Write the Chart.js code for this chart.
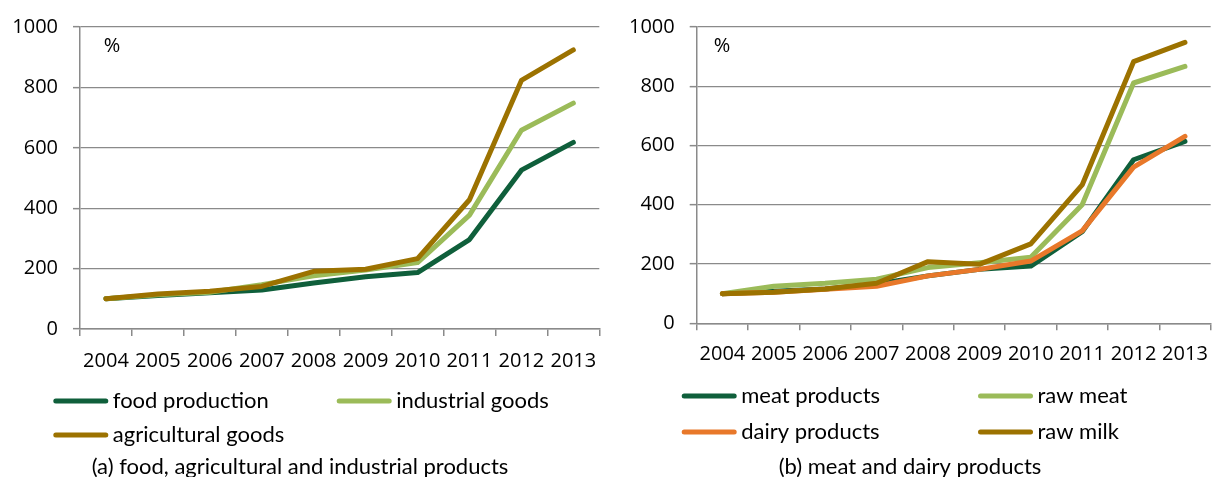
<!DOCTYPE html>
<html>
<head>
<meta charset="utf-8">
<script src="https://cdn.jsdelivr.net/npm/chart.js@4.4.0/dist/chart.umd.min.js"></script>
<style>
  html, body { margin: 0; padding: 0; background: #fff; overflow: hidden; width: 1214px; height: 477px; }
  canvas { position: absolute; top: 0; }
  #cA { left: 0; }
  #cB { left: 610px; }
</style>
</head>
<body>
<canvas id="cA" width="610" height="477"></canvas>
<canvas id="cB" width="610" height="477"></canvas>
<script>
// ---- data ----
const years = ['2004', '2005', '2006', '2007', '2008', '2009', '2010', '2011', '2012', '2013'];
const yTicks = [0, 200, 400, 600, 800, 1000];

const foodProduction    = [100, 111, 120, 129, 152, 173, 187, 296, 526, 618];
const industrialGoods   = [100, 113, 122, 147, 176, 195, 220, 377, 658, 748];
const agriculturalGoods = [100, 116, 125, 141, 191, 198, 233, 428, 823, 924];

const meatProducts  = [100, 108, 116, 133, 160, 182, 193, 309, 552, 614];
const rawMeat       = [100, 125, 135, 149, 188, 204, 223, 400, 811, 867];
const dairyProducts = [100, 105, 115, 125, 160, 182, 210, 312, 527, 631];
const rawMilk       = [100, 105, 116, 135, 208, 199, 268, 467, 883, 948];

const labelsA = ['food production', 'industrial goods', 'agricultural goods'];
const labelsB = ['meat products', 'raw meat', 'dairy products', 'raw milk'];
const captionA = '(a) food, agricultural and industrial products';
const captionB = '(b) meat and dairy products';
const unitLabel = '%';

// ---- styles ----
const DARK_GREEN = '#0F5F3B';
const LIGHT_GREEN = '#9BBB59';
const BROWN = '#9C7200';
const ORANGE = '#E8782A';
const GRID = '#8a8a8a';
const TICK_FONT = '"Open Sans", Lato, "Liberation Sans", sans-serif';
const TEXT_FONT = 'Lato, "Open Sans", "Liberation Sans", sans-serif';

function ds(label, data, color, order) {
  return {
    label, data, borderColor: color, backgroundColor: color,
    borderWidth: 5, pointRadius: 0, pointHoverRadius: 0,
    borderCapStyle: 'round', borderJoinStyle: 'round',
    tension: 0, fill: false, order
  };
}

const overlayPlugin = {
  id: 'overlay',
  afterDraw(chart, args, opts) {
    const ctx = chart.ctx;
    ctx.save();
    ctx.fillStyle = '#000';
    ctx.textBaseline = 'middle';
    // unit label
    ctx.font = '20px ' + TICK_FONT;
    ctx.textAlign = 'center';
    ctx.fillText(opts.unit.text, opts.unit.x, opts.unit.y);
    // legend
    ctx.font = '22px ' + TEXT_FONT;
    ctx.textAlign = 'left';
    chart.data.datasets.forEach((d, i) => {
      const p = opts.legend[i];
      ctx.strokeStyle = d.borderColor;
      ctx.lineWidth = 5;
      ctx.lineCap = 'round';
      ctx.beginPath();
      ctx.moveTo(p.x + 2.5, p.y);
      ctx.lineTo(p.x + 52.5, p.y);
      ctx.stroke();
      ctx.fillText(d.label, p.x + 59.5, p.y);
    });
    // caption
    ctx.textAlign = 'center';
    ctx.fillText(opts.caption.text, opts.caption.x, opts.caption.y);
    ctx.restore();
  }
};

function makeOptions(cfg) {
  return {
    responsive: false,
    animation: false,
    events: [],
    layout: { padding: { top: cfg.top, right: cfg.right, bottom: cfg.bottom, left: 0 } },
    plugins: {
      legend: { display: false },
      tooltip: { enabled: false },
      title: { display: false },
      overlay: cfg.overlay
    },
    scales: {
      x: {
        type: 'category',
        offset: true,
        grid: { offset: true, drawOnChartArea: false, drawTicks: true, tickLength: 7, color: GRID, lineWidth: 1.5 },
        border: { display: true, color: GRID, width: 1.5 },
        ticks: { color: '#000', font: { family: TICK_FONT, size: 20 }, padding: cfg.xPad, maxRotation: 0, autoSkip: false },
        afterFit: s => { s.height = cfg.xHeight; }
      },
      y: {
        min: yTicks[0], max: yTicks[yTicks.length - 1],
        afterBuildTicks: s => { s.ticks = yTicks.map(v => ({ value: v })); },
        grid: { color: GRID, lineWidth: 1.3, borderDash: [6, 3], tickBorderDash: [], drawTicks: true, tickLength: 7, tickColor: GRID, tickWidth: 1.5 },
        border: { display: true, color: GRID, width: 1.5 },
        ticks: { color: '#000', font: { family: TICK_FONT, size: 20 }, padding: 15, callback: v => String(v) },
        afterFit: s => { s.width = cfg.yWidth; }
      }
    }
  };
}

function draw() {
  new Chart(document.getElementById('cA'), {
    type: 'line',
    data: {
      labels: years,
      datasets: [
        ds(labelsA[0], foodProduction, DARK_GREEN, 3),
        ds(labelsA[1], industrialGoods, LIGHT_GREEN, 2),
        ds(labelsA[2], agriculturalGoods, BROWN, 1)
      ]
    },
    options: makeOptions({
      top: 20.5, right: 10.7, bottom: 108, xHeight: 40, yWidth: 80, xPad: 13,
      overlay: {
        unit: { text: unitLabel, x: 112, y: 46 },
        legend: [{ x: 53.3, y: 401 }, { x: 336.7, y: 401 }, { x: 53.3, y: 435 }],
        caption: { text: captionA, x: 300, y: 467 }
      }
    }),
    plugins: [overlayPlugin]
  });

  new Chart(document.getElementById('cB'), {
    type: 'line',
    data: {
      labels: years,
      datasets: [
        ds(labelsB[0], meatProducts, DARK_GREEN, 4),
        ds(labelsB[1], rawMeat, LIGHT_GREEN, 3),
        ds(labelsB[2], dairyProducts, ORANGE, 2),
        ds(labelsB[3], rawMilk, BROWN, 1)
      ]
    },
    options: makeOptions({
      top: 23.3, right: 3.4, bottom: 113.7, xHeight: 40, yWidth: 86.7, xPad: 12,
      overlay: {
        unit: { text: unitLabel, x: 112, y: 46 },
        legend: [{ x: 71.7, y: 396 }, { x: 368, y: 396 }, { x: 71.7, y: 432 }, { x: 368, y: 432 }],
        caption: { text: captionB, x: 300, y: 467 }
      }
    }),
    plugins: [overlayPlugin]
  });
}

if (document.fonts && document.fonts.load) {
  Promise.all([
    document.fonts.load('20px Lato'), document.fonts.load('22px Lato'),
    document.fonts.load('20px "Open Sans"')
  ]).then(draw, draw);
} else {
  draw();
}
</script>
</body>
</html>
